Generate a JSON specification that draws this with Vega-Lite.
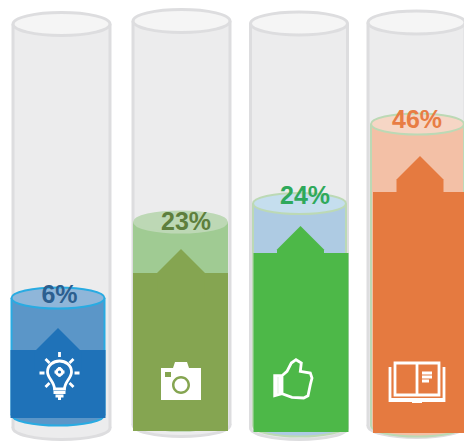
{
"$schema":"https://vega.github.io/schema/vega-lite/v6.json",
"width":464,"height":441,"padding":0,"autosize":{"type":"none"},"background":"white",
"config":{"view":{"stroke":null},"scale":{"continuousPadding":0}},
"data":{"values":[
{"item":"Ideas","slot":1,"label":"6%","tubeTop":417,"tubeBase":13,"surface":143,"liquidBase":26,"solidTop":91,"solidBase":23,"roof":89.5,"icon":68,"labelAt":146},
{"item":"Photos","slot":2,"label":"23%","tubeTop":420,"tubeBase":16,"surface":219,"liquidBase":21,"solidTop":168,"solidBase":10,"roof":168.5,"icon":60,"labelAt":219},
{"item":"Likes","slot":3,"label":"24%","tubeTop":417.5,"tubeBase":13,"surface":237.5,"liquidBase":15,"solidTop":188,"solidBase":9,"roof":191.5,"icon":62,"labelAt":245},
{"item":"Reading","slot":4,"label":"46%","tubeTop":418.5,"tubeBase":15,"surface":317,"liquidBase":15,"solidTop":249,"solidBase":8,"roof":261.5,"icon":58,"labelAt":321}
]},
"resolve":{"scale":{"x":"independent","fill":"independent","stroke":"independent","shape":"independent"}},
"layer":[
{"mark":{"type":"point","filled":true,"opacity":1,"size":4,"strokeWidth":3,"stroke":"#dddddf","fill":"#ececed","shape":"M-48.5,0A48.5,11.5 0 1 0 48.5,0A48.5,11.5 0 1 0 -48.5,0Z"},
 "encoding":{"x":{"field":"slot","type":"quantitative","axis":null,"scale":{"domain":[1,2,3,4],"range":[61.5,181.5,299,416.5]}},
 "y":{"field":"tubeBase","type":"quantitative","axis":null,"scale":{"domain":[0,441],"range":[441,0]}}}},
{"mark":{"type":"bar","width":100,"fill":"#dddddf"},
 "encoding":{"x":{"field":"slot","type":"quantitative","axis":null,"scale":{"padding":0,"domain":[1,2,3,4],"range":[61.5,181.5,299,416.5]}},
 "y":{"field":"tubeTop","type":"quantitative","axis":null,"scale":{"domain":[0,441],"range":[441,0]}},"y2":{"field":"tubeBase"}}},
{"mark":{"type":"bar","width":94,"fill":"#ececed"},
 "encoding":{"x":{"field":"slot","type":"quantitative","axis":null,"scale":{"padding":0,"domain":[1,2,3,4],"range":[61.5,181.5,299,416.5]}},
 "y":{"field":"tubeTop","type":"quantitative","axis":null,"scale":{"domain":[0,441],"range":[441,0]}},"y2":{"field":"tubeBase"}}},
{"mark":{"type":"point","filled":true,"opacity":1,"size":4,"strokeWidth":3,"stroke":"#dddddf","fill":"#f5f5f5","shape":"M-48.5,0A48.5,11.5 0 1 0 48.5,0A48.5,11.5 0 1 0 -48.5,0Z"},
 "encoding":{"x":{"field":"slot","type":"quantitative","axis":null,"scale":{"domain":[1,2,3,4],"range":[61.5,181.5,299,416.5]}},
 "y":{"field":"tubeTop","type":"quantitative","axis":null,"scale":{"domain":[0,441],"range":[441,0]}}}},
{"mark":{"type":"point","filled":true,"opacity":1,"size":4,"strokeWidth":2,"shape":"M-46.5,0A46.5,10.5 0 1 0 46.5,0A46.5,10.5 0 1 0 -46.5,0Z"},
 "encoding":{"x":{"field":"slot","type":"quantitative","axis":null,"scale":{"domain":[1,2,3,4],"range":[58,180.5,299.5,417.5]}},
 "y":{"field":"liquidBase","type":"quantitative","axis":null,"scale":{"domain":[0,441],"range":[441,0]}},
 "fill":{"field":"item","type":"nominal","legend":null,"scale":{"domain":["Ideas","Photos","Likes","Reading"],"range":["#5b96c8","#a0cb93","#aecbe3","#f3c0a6"]}},
 "stroke":{"field":"item","type":"nominal","legend":null,"scale":{"domain":["Ideas","Photos","Likes","Reading"],"range":["#29abe2","#a0cb93","#bcd9b5","#bcd9b5"]}}}},
{"mark":{"type":"bar","width":95},
 "encoding":{"x":{"field":"slot","type":"quantitative","axis":null,"scale":{"padding":0,"domain":[1,2,3,4],"range":[58,180.5,299.5,417.5]}},
 "y":{"field":"surface","type":"quantitative","axis":null,"scale":{"domain":[0,441],"range":[441,0]}},"y2":{"field":"liquidBase"},
 "fill":{"field":"item","type":"nominal","legend":null,"scale":{"domain":["Ideas","Photos","Likes","Reading"],"range":["#29abe2","#a0cb93","#bcd9b5","#bcd9b5"]}}}},
{"mark":{"type":"bar","width":91},
 "encoding":{"x":{"field":"slot","type":"quantitative","axis":null,"scale":{"padding":0,"domain":[1,2,3,4],"range":[58,180.5,299.5,417.5]}},
 "y":{"field":"surface","type":"quantitative","axis":null,"scale":{"domain":[0,441],"range":[441,0]}},"y2":{"field":"liquidBase"},
 "fill":{"field":"item","type":"nominal","legend":null,"scale":{"domain":["Ideas","Photos","Likes","Reading"],"range":["#5b96c8","#a0cb93","#aecbe3","#f3c0a6"]}}}},
{"mark":{"type":"point","filled":true,"opacity":1,"size":4,"strokeWidth":2,"shape":"M-46.5,0A46.5,10.5 0 1 0 46.5,0A46.5,10.5 0 1 0 -46.5,0Z"},
 "encoding":{"x":{"field":"slot","type":"quantitative","axis":null,"scale":{"domain":[1,2,3,4],"range":[58,180.5,299.5,417.5]}},
 "y":{"field":"surface","type":"quantitative","axis":null,"scale":{"domain":[0,441],"range":[441,0]}},
 "fill":{"field":"item","type":"nominal","legend":null,"scale":{"domain":["Ideas","Photos","Likes","Reading"],"range":["#8fb6d9","#bdd8b5","#c5deee","#f6d6c5"]}},
 "stroke":{"field":"item","type":"nominal","legend":null,"scale":{"domain":["Ideas","Photos","Likes","Reading"],"range":["#29abe2","#bdd8b5","#bcd9b5","#bcd9b5"]}}}},
{"mark":{"type":"bar","width":95},
 "encoding":{"x":{"field":"slot","type":"quantitative","axis":null,"scale":{"padding":0,"domain":[1,2,3,4],"range":[58,180.5,301,420.5]}},
 "y":{"field":"solidTop","type":"quantitative","axis":null,"scale":{"domain":[0,441],"range":[441,0]}},"y2":{"field":"solidBase"},
 "fill":{"field":"item","type":"nominal","legend":null,"scale":{"domain":["Ideas","Photos","Likes","Reading"],"range":["#1f72b8","#85a551","#4db848","#e57a40"]}}}},
{"mark":{"type":"point","filled":true,"opacity":1,"size":4,"strokeWidth":0,"shape":"M0,-23.5L23.5,0L23.5,23.5L-23.5,23.5L-23.5,0Z"},
 "encoding":{"x":{"field":"slot","type":"quantitative","axis":null,"scale":{"domain":[1,2,3,4],"range":[58,181,300.5,420]}},
 "y":{"field":"roof","type":"quantitative","axis":null,"scale":{"domain":[0,441],"range":[441,0]}},
 "fill":{"field":"item","type":"nominal","legend":null,"scale":{"domain":["Ideas","Photos","Likes","Reading"],"range":["#1f72b8","#85a551","#4db848","#e57a40"]}}}},
{"transform":[{"filter":"datum.item !== 'Photos'"}],
 "mark":{"type":"point","filled":false,"opacity":1,"size":4,"strokeWidth":2.8,"stroke":"white","fill":null},
 "encoding":{"x":{"field":"slot","type":"quantitative","axis":null,"scale":{"domain":[1,2,3,4],"range":[59.5,181,293,417]}},
 "y":{"field":"icon","type":"quantitative","axis":null,"scale":{"domain":[0,441],"range":[441,0]}},
 "shape":{"field":"item","type":"nominal","legend":null,"scale":{"domain":["Ideas","Likes","Reading"],"range":[
 "M-5,16C-5,9 -12,5 -12,-1C-12,-8 -6,-12 0,-12C6,-12 12,-8 12,-1C12,5 5,9 5,16ZM-6,19.5H6M-4,23H4M-1.5,25.5H1.5M0,-21V-16M-20,0H-15M15,0H20M-14,-14L-10,-10M14,-14L10,-10M-14,14L-10,10M14,14L10,10M-3,-1A3,3 0 1 0 3,-1A3,3 0 1 0 -3,-1ZM0,-6V-4M0,2V4M-5,-1H-3M3,-1H5",
 "M-18.3,-3.3L-11,-3.3L-6,-7.7L-1.7,-16L3,-19.3L8.3,-16L7.3,-7.7L17.3,-6L19,-1L17.3,5.7L15,16.7L10.7,19L-1,18.3L-11,14.7L-18.3,16.7ZM-16.5,-3V15M-13.5,-3V15M-11,-3V15",
 "M-22,-20H22V12H-22ZM0,-20V12M-27,-16V16.5H27V-16M-27,15V17.5H27V15M-5,18.5H5M5,-10H15M5,-6H15M5,-2H12"]}}}},
{"transform":[{"filter":"datum.item === 'Photos'"}],
 "mark":{"type":"point","filled":true,"opacity":1,"size":4,"strokeWidth":0,"fill":"white","shape":"M-20,-13L-8,-13L-6,-19L6,-19L8,-13L20,-13L20,19L-20,19ZM-9,4A9,9 0 1 0 9,4A9,9 0 1 0 -9,4ZM-6.5,4A6.5,6.5 0 1 1 6.5,4A6.5,6.5 0 1 1 -6.5,4ZM-16,-9L-16,-4L-10,-4L-10,-9Z"},
 "encoding":{"x":{"field":"slot","type":"quantitative","axis":null,"scale":{"domain":[1,2,3,4],"range":[59.5,181,293,417]}},
 "y":{"field":"icon","type":"quantitative","axis":null,"scale":{"domain":[0,441],"range":[441,0]}}}},
{"mark":{"type":"text","font":"Liberation Sans","fontWeight":"bold","fontSize":25,"align":"center","baseline":"middle"},
 "encoding":{"x":{"field":"slot","type":"quantitative","axis":null,"scale":{"domain":[1,2,3,4],"range":[59.5,186,305,417]}},
 "y":{"field":"labelAt","type":"quantitative","axis":null,"scale":{"domain":[0,441],"range":[441,0]}},
 "text":{"field":"label"},
 "fill":{"field":"item","type":"nominal","legend":null,"scale":{"domain":["Ideas","Photos","Likes","Reading"],"range":["#2c5f8f","#5e7f3d","#2fa95b","#e87d44"]}}}}
]}
